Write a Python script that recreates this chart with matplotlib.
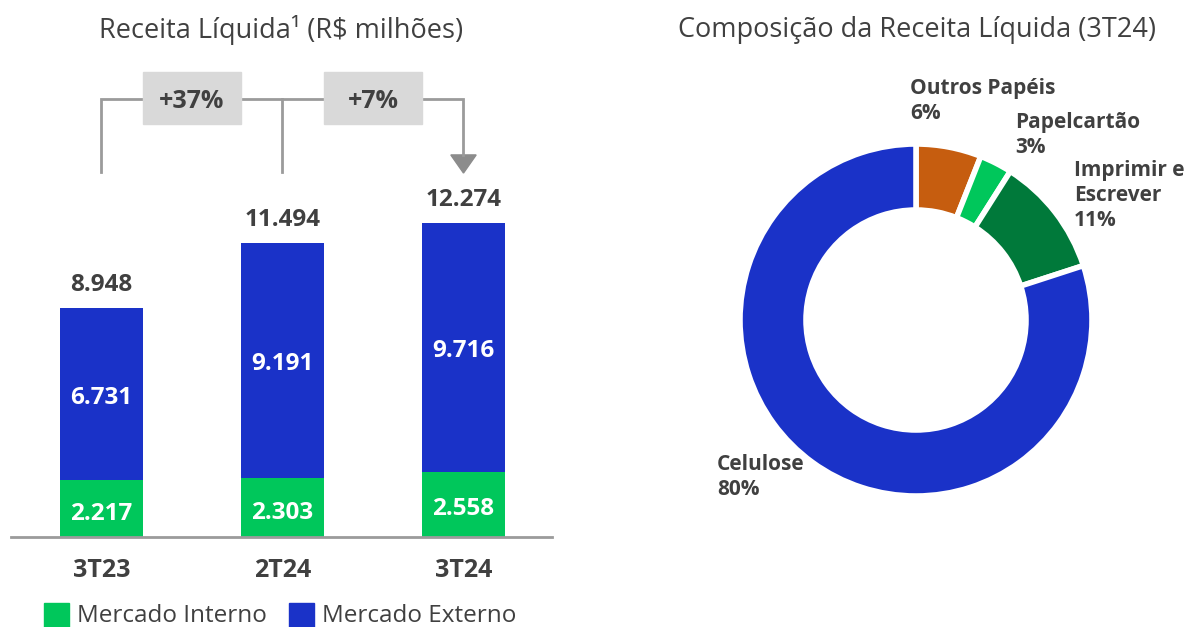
import matplotlib.pyplot as plt
from matplotlib.patches import Rectangle, Polygon

plt.rcParams['font.family'] = ['Open Sans', 'DejaVu Sans']

# dados
periodos = ['3T23', '2T24', '3T24']
mercado_interno = [2217, 2303, 2558]
mercado_externo = [6731, 9191, 9716]
totais = [8948, 11494, 12274]
variacoes = ['+37%', '+7%']

segmentos = ['Outros Papéis', 'Papelcartão', 'Imprimir e\nEscrever', 'Celulose']
participacao = [6, 3, 11, 80]

VERDE = '#00C75B'
AZUL = '#1A32C8'
LARANJA = '#C65D0F'
VERDE_ESC = '#00793A'
TEXTO = '#404040'
CINZA = '#9B9B9B'

W, H = 1192, 627
fig = plt.figure(figsize=(W / 100, H / 100), dpi=100)


def fx(px):
    return px / W


def fy(py):
    return 1 - py / H


# ---- barras ----
ax = fig.add_axes([fx(11), fy(537), fx(552) - fx(11), (537 - 60) / H])
x = list(range(len(periodos)))
ax.bar(x, mercado_interno, width=0.46, color=VERDE)
ax.bar(x, mercado_externo, width=0.46, bottom=mercado_interno, color=AZUL)
ax.set_xlim(-0.5, 2.489)
ax.set_ylim(0, 18641)
for s in ['top', 'right', 'left']:
    ax.spines[s].set_visible(False)
ax.spines['bottom'].set_color(CINZA)
ax.spines['bottom'].set_linewidth(2)
ax.set_yticks([])
ax.set_xticks(x)
ax.set_xticklabels(periodos, fontsize=18, fontweight='bold', color=TEXTO)
ax.tick_params(axis='x', length=0, pad=15)

for i in x:
    mi, me, tot = mercado_interno[i], mercado_externo[i], totais[i]
    ax.text(i, mi / 2 - 200, f'{mi:,}'.replace(',', '.'), ha='center', va='center',
            color='white', fontsize=17.5, fontweight='bold')
    ax.text(i, mi + me / 2 - 150, f'{me:,}'.replace(',', '.'), ha='center', va='center',
            color='white', fontsize=17.5, fontweight='bold')
    ax.annotate(f'{tot:,}'.replace(',', '.'), (i, mi + me), xytext=(0, 8),
                textcoords='offset points', ha='center', va='bottom',
                color=TEXTO, fontsize=17.5, fontweight='bold')

# colchetes de variação
tr = ax.get_xaxis_transform()
y_top, y_low = 0.918, 0.765
ax.plot([0, 0, 2, 2], [y_low, y_top, y_top, 0.80], color=CINZA, lw=2,
        transform=tr, clip_on=False, solid_joinstyle='miter')
ax.plot([1, 1], [y_low, y_top], color=CINZA, lw=2, transform=tr, clip_on=False)
ax.add_patch(Polygon([[1.93, 0.801], [2.07, 0.801], [2.0, 0.763]], closed=True,
                     color='#8C8C8C', transform=tr, clip_on=False))
for k, txt in enumerate(variacoes):
    cx = k + 0.5
    ax.add_patch(Rectangle((cx - 0.268, 0.866), 0.536, 0.109, color='#D9D9D9',
                           transform=tr, clip_on=False, zorder=3))
    ax.text(cx, 0.914, txt, transform=tr, ha='center', va='center', color=TEXTO,
            fontsize=18, fontweight='bold', zorder=4)

fig.text(fx(281), fy(30), 'Receita Líquida¹ (R$ milhões)', ha='center', va='center',
         fontsize=19.5, color=TEXTO)

# legenda
for lx, cor, nome in [(44, VERDE, 'Mercado Interno'), (289, AZUL, 'Mercado Externo')]:
    fig.patches.append(Rectangle((fx(lx), fy(628)), fx(25), 25 / H, color=cor,
                                 transform=fig.transFigure, figure=fig))
    fig.text(fx(lx + 33), fy(616), nome, ha='left', va='center', fontsize=17.5, color=TEXTO)

# ---- rosca ----
ax2 = fig.add_axes([fx(740), fy(496), fx(352), 352 / H])
ax2.pie(participacao, colors=[LARANJA, VERDE, VERDE_ESC, AZUL], startangle=90,
        counterclock=False, radius=1,
        wedgeprops=dict(width=0.375, edgecolor='white', linewidth=4))
ax2.set_xlim(-1, 1)
ax2.set_ylim(-1, 1)
for w in ax2.patches:
    w.set_clip_on(False)

fig.text(fx(917), fy(30), 'Composição da Receita Líquida (3T24)', ha='center', va='center',
         fontsize=19.5, color=TEXTO)

posicoes = [(910, 78), (1015, 112), (1074, 160), (717, 454)]
for (px, py), nome, p in zip(posicoes, segmentos, participacao):
    fig.text(fx(px), fy(py), f'{nome}\n{p}%', ha='left', va='top', fontsize=15,
             fontweight='bold', color=TEXTO, linespacing=1.25)

fig.savefig('out.png', dpi=100)
